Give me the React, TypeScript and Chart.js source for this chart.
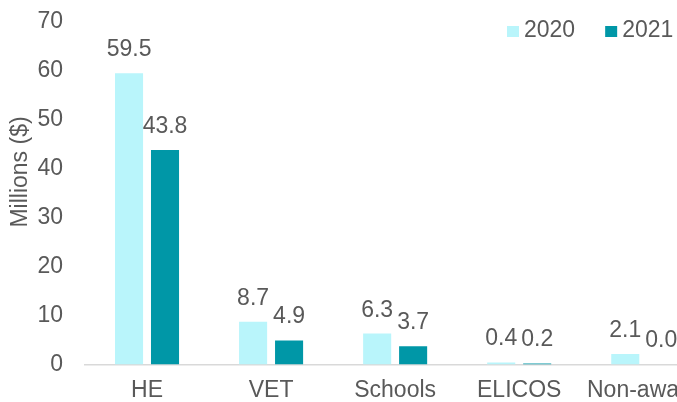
import React, { useEffect, useRef } from "react";
import { Chart, registerables } from "chart.js";

Chart.register(...registerables);

const categories = ["HE", "VET", "Schools", "ELICOS", "Non-award"];
const series2020 = [59.5, 8.7, 6.3, 0.4, 2.1];
const series2021 = [43.8, 4.9, 3.7, 0.2, 0.0];
const seriesLabels = ["2020", "2021"];
const yTicks = [0, 10, 20, 30, 40, 50, 60, 70];
const yTitle = "Millions ($)";

const LIGHT = "#B9F5FB";
const DARK = "#0097A7";
const TEXT = "#595959";
const FONT = "'Liberation Sans', Arial, sans-serif";
const FS = 23;
const SHIFT = 14;

const valueLabels = {
  id: "valueLabels",
  afterDatasetsDraw(chart: any) {
    const ctx = chart.ctx;
    ctx.save();
    ctx.fillStyle = TEXT;
    ctx.font = `${FS}px ${FONT}`;
    ctx.textAlign = "center";
    ctx.textBaseline = "alphabetic";
    chart.data.datasets.forEach((ds: any, i: number) => {
      const meta = chart.getDatasetMeta(i);
      meta.data.forEach((bar: any, j: number) => {
        ctx.fillText(Number(ds.data[j]).toFixed(1), bar.x, bar.y - 17);
      });
    });
    ctx.restore();
  },
};

const customDecor = {
  id: "customDecor",
  afterDraw(chart: any) {
    const ctx = chart.ctx;
    ctx.save();
    ctx.fillStyle = TEXT;
    ctx.font = `${FS}px ${FONT}`;
    // rotated y-axis title
    ctx.save();
    ctx.translate(21, 172 + SHIFT);
    ctx.rotate(-Math.PI / 2);
    ctx.textAlign = "center";
    ctx.textBaseline = "middle";
    ctx.fillText(yTitle, 0, 0);
    ctx.restore();
    // legend
    let x = 507;
    const yMid = 31 + SHIFT;
    chart.data.datasets.forEach((ds: any) => {
      ctx.fillStyle = ds.backgroundColor;
      ctx.fillRect(x, yMid - 5, 12, 11);
      x += 17;
      ctx.fillStyle = TEXT;
      ctx.textAlign = "left";
      ctx.textBaseline = "middle";
      ctx.fillText(ds.label, x, yMid);
      x += ctx.measureText(ds.label).width + 30;
    });
    ctx.restore();
  },
};

export default function App() {
  const ref = useRef<HTMLCanvasElement>(null);
  useEffect(() => {
    if (!ref.current) return;
    const chart = new Chart(ref.current, {
      type: "bar",
      data: {
        labels: categories,
        datasets: [
          { label: seriesLabels[0], data: series2020, backgroundColor: LIGHT },
          { label: seriesLabels[1], data: series2021, backgroundColor: DARK },
        ],
      },
      options: {
        responsive: false,
        animation: false,
        layout: { padding: { top: 19, right: 5, left: 0, bottom: 0 } },
        datasets: { bar: { categoryPercentage: 0.58, barPercentage: 0.78 } },
        plugins: { legend: { display: false }, tooltip: { enabled: false } },
        scales: {
          x: {
            grid: { display: false, drawTicks: false },
            border: { display: true, color: "#D9D9D9", width: 1.5 },
            ticks: {
              color: TEXT,
              font: { family: FONT, size: FS },
              padding: 12,
              maxRotation: 0,
              autoSkip: false,
            },
          },
          y: {
            min: 0,
            max: 70,
            afterFit(scale: any) {
              scale.width = 85;
            },
            afterBuildTicks(scale: any) {
              scale.ticks = yTicks.map((v) => ({ value: v }));
            },
            grid: { display: false, drawTicks: false },
            border: { display: false },
            ticks: {
              color: TEXT,
              font: { family: FONT, size: FS },
              padding: 22,
            },
          },
        },
      },
      plugins: [valueLabels, customDecor],
    });
    return () => chart.destroy();
  }, []);
  return (
    <div
      style={{
        position: "fixed",
        left: 0,
        top: 0,
        width: 677,
        height: 402,
        overflow: "hidden",
        background: "#fff",
      }}
    >
      <canvas
        ref={ref}
        width={712}
        height={430}
        style={{ display: "block", position: "absolute", left: 0, top: -SHIFT }}
      />
    </div>
  );
}
